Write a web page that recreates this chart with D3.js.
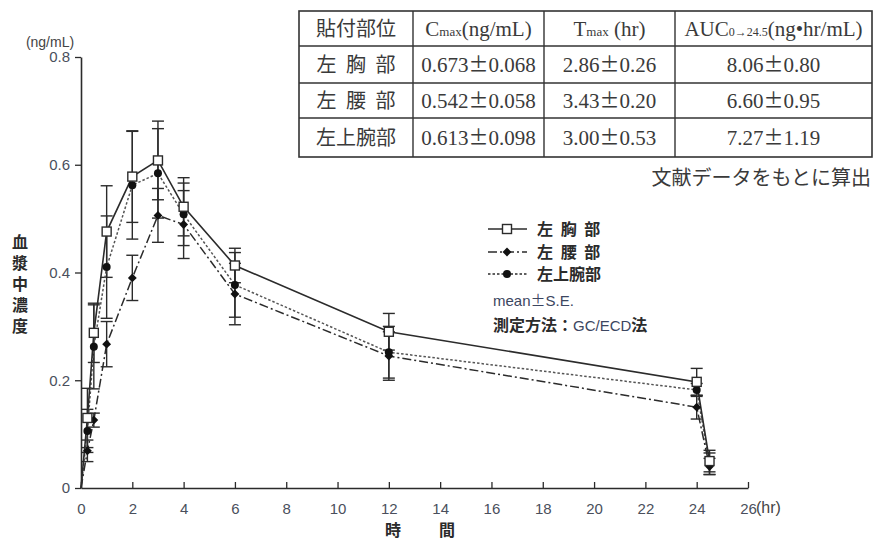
<!DOCTYPE html>
<html>
<head>
<meta charset="utf-8">
<script src="https://cdn.jsdelivr.net/npm/d3@7"></script>
<style>
  body { margin: 0; background: #fff; }
  svg { display: block; }
</style>
</head>
<body>
<div id="chartholder"></div>
<script>
// sampling times (hr)
var times = [0, 0.25, 0.5, 1, 2, 3, 4, 6, 12, 24, 24.5];

// plasma concentration, mean and S.E. (ng/mL)
var chestMean = [0, 0.130, 0.288, 0.476, 0.578, 0.608, 0.522, 0.413, 0.290, 0.197, 0.050];
var chestSE   = [0, 0.055, 0.055, 0.085, 0.085, 0.073, 0.054, 0.032, 0.034, 0.025, 0.020];
var waistMean = [0, 0.069, 0.126, 0.267, 0.390, 0.506, 0.489, 0.360, 0.245, 0.150, 0.040];
var waistSE   = [0, 0.020, 0.013, 0.042, 0.042, 0.050, 0.063, 0.057, 0.045, 0.022, 0.015];
var armMean   = [0, 0.106, 0.262, 0.410, 0.562, 0.584, 0.508, 0.377, 0.252, 0.182, 0.045];
var armSE     = [0, 0.040, 0.078, 0.095, 0.100, 0.083, 0.058, 0.060, 0.048, 0.012, 0.020];

var seriesNames = ["左 胸 部", "左 腰 部", "左上腕部"];

var xTicks = [0, 2, 4, 6, 8, 10, 12, 14, 16, 18, 20, 22, 24, 26];
var yTicks = [0, 0.2, 0.4, 0.6, 0.8];

// PK table
var tableHeader = ["貼付部位", "Cmax", "Tmax", "AUC"];
var siteNames = ["左 胸 部", "左 腰 部", "左上腕部"];
var cmaxVals = ["0.673±0.068", "0.542±0.058", "0.613±0.098"];
var tmaxVals = ["2.86±0.26", "3.43±0.20", "3.00±0.53"];
var aucVals  = ["8.06±0.80", "6.60±0.95", "7.27±1.19"];

var W = 874, H = 541;
var svg = d3.select("#chartholder").append("svg")
  .attr("width", W).attr("height", H);

var narrow = "'Liberation Sans Narrow', 'Liberation Sans', Arial, sans-serif";
var sans = "'Liberation Sans', Arial, sans-serif";
var cjk = "'Noto Sans CJK JP', sans-serif";
var serif = "'Liberation Serif', 'Noto Sans CJK JP', serif";
var ink = "#2b2b2b";
var blue = "#3c4660";

var x = d3.scaleLinear().domain([0, 26]).range([81, 748]);
var y = d3.scaleLinear().domain([0, 0.8]).range([488, 57]);

// x axis (ticks pointing up)
var gx = svg.append("g")
  .attr("transform", "translate(0," + y(0) + ")")
  .call(d3.axisBottom(x).tickValues(xTicks).tickSize(-6).tickPadding(12).tickSizeOuter(0));
gx.selectAll("text").attr("dy", "0.9em");

// y axis
var gy = svg.append("g")
  .attr("transform", "translate(" + x(0) + ",0)")
  .call(d3.axisLeft(y).tickValues(yTicks).tickSize(6).tickPadding(5).tickSizeOuter(0)
    .tickFormat(function(d) { return d === 0 ? "0" : d3.format(".1f")(d); }));

[gx, gy].forEach(function(g) {
  g.select(".domain").attr("stroke", ink).attr("stroke-width", 1.6);
  g.selectAll(".tick line").attr("stroke", ink).attr("stroke-width", 1.3);
  g.selectAll(".tick text").attr("fill", "#4a4f5c").style("font-family", narrow).style("font-size", "15px");
});

// unit labels
svg.append("text").attr("x", 50).attr("y", 47).attr("text-anchor", "middle")
  .style("font-family", narrow).style("font-size", "14px").attr("fill", "#444").text("(ng/mL)");
svg.append("text").attr("x", 756).attr("y", 513)
  .style("font-family", narrow).style("font-size", "16px").attr("fill", "#444").text("(hr)");

// axis titles
var xTitle = ["時", "間"];
svg.selectAll(".xtitle").data(xTitle).enter().append("text")
  .attr("x", function(d, i) { return 393 + i * 54; }).attr("y", 536).attr("text-anchor", "middle")
  .style("font-family", cjk).style("font-size", "16px").style("font-weight", "bold")
  .attr("fill", ink).text(function(d) { return d; });

// vertical y title
svg.append("text")
  .attr("x", 20).attr("y", 234)
  .style("writing-mode", "vertical-rl").style("text-orientation", "upright")
  .style("letter-spacing", "5px")
  .style("font-family", cjk).style("font-size", "16px").style("font-weight", "bold")
  .attr("fill", ink).text("血漿中濃度");

// series
function pack(means, ses) {
  return times.map(function(t, i) { return { t: t, m: means[i], se: ses[i] }; });
}
var series = [
  { name: seriesNames[0], data: pack(chestMean, chestSE), dash: null, marker: "square" },
  { name: seriesNames[1], data: pack(waistMean, waistSE), dash: "9,3,2,3", marker: "diamond" },
  { name: seriesNames[2], data: pack(armMean, armSE), dash: "2.5,2", marker: "circle" }
];

var line = d3.line().x(function(d) { return x(d.t); }).y(function(d) { return y(d.m); });

// error bars first
series.forEach(function(s) {
  var eb = svg.append("g").selectAll("g").data(s.data.filter(function(d) { return d.se > 0; }))
    .enter().append("g");
  eb.append("line")
    .attr("x1", function(d) { return x(d.t); }).attr("x2", function(d) { return x(d.t); })
    .attr("y1", function(d) { return y(d.m + d.se); }).attr("y2", function(d) { return y(d.m - d.se); })
    .attr("stroke", ink).attr("stroke-width", 1.4);
  [1, -1].forEach(function(sg) {
    eb.append("line")
      .attr("x1", function(d) { return x(d.t) - 6; }).attr("x2", function(d) { return x(d.t) + 6; })
      .attr("y1", function(d) { return y(d.m + sg * d.se); }).attr("y2", function(d) { return y(d.m + sg * d.se); })
      .attr("stroke", ink).attr("stroke-width", 1.4);
  });
});

// lines
series.slice().reverse().forEach(function(s) {
  svg.append("path").datum(s.data)
    .attr("d", line).attr("fill", "none")
    .attr("stroke", s.marker === "circle" ? "#555" : ink)
    .attr("stroke-width", s.marker === "square" ? 1.6 : 1.5)
    .attr("stroke-dasharray", s.dash);
});

function drawMarker(g, type, cx, cy) {
  if (type === "square") {
    g.append("rect").attr("x", cx - 4.5).attr("y", cy - 4.5).attr("width", 9).attr("height", 9)
      .attr("fill", "#fff").attr("stroke", ink).attr("stroke-width", 1.4);
  } else if (type === "diamond") {
    g.append("path").attr("d", d3.symbol().type(d3.symbolDiamond2).size(50)())
      .attr("transform", "translate(" + cx + "," + cy + ")").attr("fill", "#111");
  } else {
    g.append("circle").attr("cx", cx).attr("cy", cy).attr("r", 4).attr("fill", "#111");
  }
}

// markers (skip t=0)
series.slice().reverse().forEach(function(s) {
  var g = svg.append("g");
  s.data.forEach(function(d) {
    if (d.t > 0) drawMarker(g, s.marker, x(d.t), y(d.m));
  });
});

// legend
var legendY = [229, 252, 274];
series.forEach(function(s, i) {
  var g = svg.append("g");
  g.append("line").attr("x1", 488).attr("x2", 527).attr("y1", legendY[i]).attr("y2", legendY[i])
    .attr("stroke", ink).attr("stroke-width", 1.5).attr("stroke-dasharray", s.dash);
  drawMarker(g, s.marker, 507, legendY[i]);
  g.append("text").attr("x", 537).attr("y", legendY[i] + 6)
    .style("font-family", cjk).style("font-size", "16px").style("font-weight", "bold")
    .style("word-spacing", "4px")
    .attr("fill", ink).text(s.name);
});
var meanTxt = svg.append("text").attr("x", 493).attr("y", 306)
  .style("font-family", sans).style("font-size", "15px").attr("fill", blue);
meanTxt.append("tspan").text("mean");
meanTxt.append("tspan").style("font-family", cjk).text("±");
meanTxt.append("tspan").text("S.E.");
var method = svg.append("text").attr("x", 493).attr("y", 331)
  .style("font-size", "16px").attr("fill", ink);
method.append("tspan").style("font-family", cjk).style("font-weight", "bold").text("測定方法：");
method.append("tspan").style("font-family", sans).style("font-size", "15px").attr("fill", blue).text("GC/ECD");
method.append("tspan").style("font-family", cjk).style("font-weight", "bold").text("法");

// table
var colX = [299, 413, 544, 675, 872];
var rowY = [11, 46, 83, 118, 157];
var tbl = svg.append("g");
tbl.append("rect").attr("x", colX[0]).attr("y", rowY[0])
  .attr("width", colX[4] - colX[0]).attr("height", rowY[4] - rowY[0])
  .attr("fill", "#fff").attr("stroke", "#333").attr("stroke-width", 1.6);
tbl.selectAll(".vl").data(colX.slice(1, 4)).enter().append("line")
  .attr("x1", function(d) { return d; }).attr("x2", function(d) { return d; })
  .attr("y1", rowY[0]).attr("y2", rowY[4]).attr("stroke", "#333").attr("stroke-width", 1.4);
tbl.selectAll(".hl").data(rowY.slice(1, 4)).enter().append("line")
  .attr("x1", colX[0]).attr("x2", colX[4])
  .attr("y1", function(d) { return d; }).attr("y2", function(d) { return d; })
  .attr("stroke", "#333").attr("stroke-width", 1.4);

function cx(c) { return (colX[c] + colX[c + 1]) / 2; }
function cy(r) { return (rowY[r] + rowY[r + 1]) / 2 + 7; }
var tcol = "#3a3a3a";

// header
tbl.append("text").attr("x", cx(0)).attr("y", cy(0)).attr("text-anchor", "middle")
  .style("font-family", cjk).style("font-size", "20px").attr("fill", tcol).text(tableHeader[0]);
function header(c, main, sub, tail, subSize, fs) {
  var t = tbl.append("text").attr("x", cx(c)).attr("y", cy(0)).attr("text-anchor", "middle")
    .style("font-family", serif).style("font-size", fs).attr("fill", tcol);
  t.append("tspan").text(main);
  t.append("tspan").style("font-size", subSize).text(sub);
  t.append("tspan").text(tail);
  // fit into the cell if needed
  var maxW = colX[c + 1] - colX[c] - 6;
  var w = t.node().getComputedTextLength();
  if (w > maxW) t.attr("textLength", maxW).attr("lengthAdjust", "spacingAndGlyphs");
}
header(1, "C", "max", "(ng/mL)", "13px", "21px");
header(2, "T", "max", " (hr) ", "13px", "21px");
header(3, "AUC", "0→24.5", "(ng•hr/mL)", "12px", "21px");

// body
tbl.selectAll(".c0").data(siteNames).enter().append("text")
  .attr("x", cx(0)).attr("y", function(d, r) { return cy(r + 1); })
  .attr("text-anchor", "middle")
  .style("font-family", cjk).style("font-size", "20px").style("word-spacing", "5px")
  .attr("fill", tcol).text(function(d) { return d; });

[cmaxVals, tmaxVals, aucVals].forEach(function(col, k) {
  var c = k + 1;
  tbl.selectAll(".c" + c).data(col).enter().append("text")
    .attr("x", cx(c)).attr("y", function(d, r) { return cy(r + 1); })
    .attr("text-anchor", "middle")
    .style("font-family", serif).style("font-size", "21px").attr("fill", tcol)
    .each(function(d) {
      var parts = d.split("±");
      var t = d3.select(this);
      t.append("tspan").text(parts[0]);
      t.append("tspan").style("font-family", cjk).style("font-size", "20px").text("±");
      t.append("tspan").text(parts[1]);
    });
});

svg.append("text").attr("x", 871).attr("y", 185).attr("text-anchor", "end")
  .style("font-family", cjk).style("font-size", "20px").attr("fill", tcol)
  .text("文献データをもとに算出");
</script>
</body>
</html>
